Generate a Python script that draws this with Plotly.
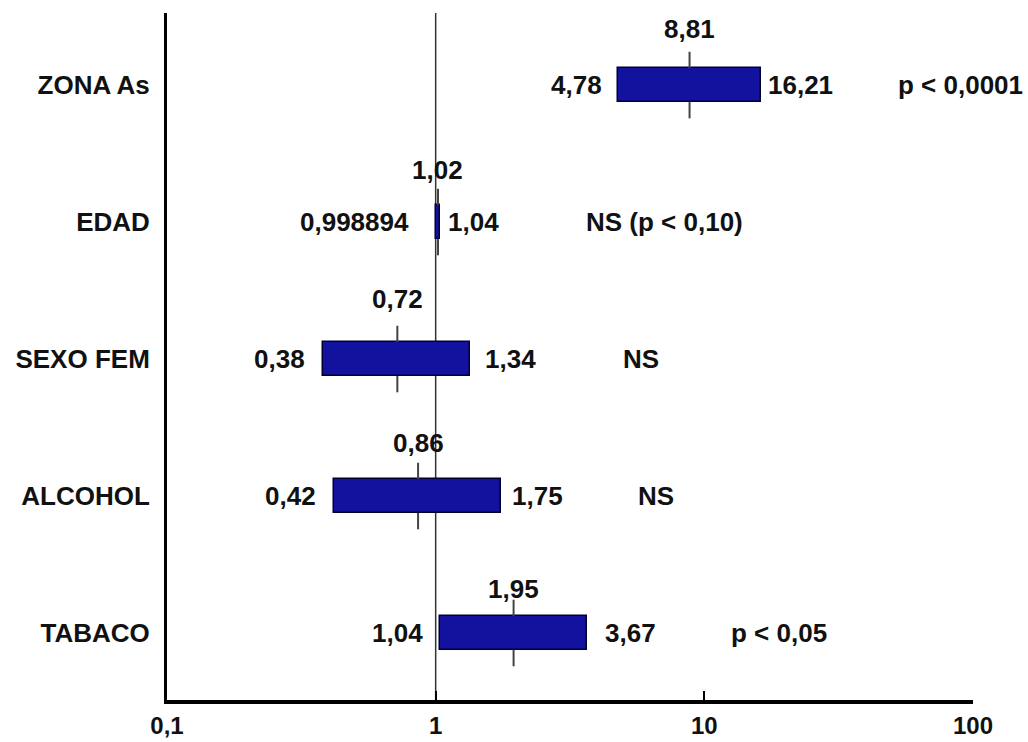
import math
import plotly.graph_objects as go

# ---- data (top to bottom) ----
categories = ["ZONA As", "EDAD", "SEXO FEM", "ALCOHOL", "TABACO"]
odds_ratio = [8.81, 1.02, 0.72, 0.86, 1.95]
ci_low = [4.78, 0.998894, 0.38, 0.42, 1.04]
ci_high = [16.21, 1.04, 1.34, 1.75, 3.67]
p_labels = ["p < 0,0001", "NS (p < 0,10)", "NS", "NS", "p < 0,05"]
x_tick_vals = [0.1, 1, 10, 100]
x_tick_text = ["0,1", "1", "10", "100"]

# ---- layout tweaks (label placement, px) ----
or_label_dy = [56, 52, 60, 53, 44]
lo_label_dx = [-14, -25, -16, -16, -15]
hi_label_dx = [5, 6, 13, 9, 16]
p_label_xpaper = [0.905, 0.517, 0.563, 0.582, 0.697]

BAR_COLOR = "#12129e"
FONT = dict(family="Liberation Sans, Arial, sans-serif", size=26, color="#111111", weight="bold")
TICK_FONT = dict(family="Liberation Sans, Arial, sans-serif", size=24, color="#111111", weight="bold")

def fmt(v):
    return str(v).replace(".", ",")

n = len(categories)
ypos = [n - 1 - i for i in range(n)]
half_bar = 0.124
half_line = 0.243

fig = go.Figure()

fig.add_trace(go.Bar(
    orientation="h",
    y=ypos,
    x=[h - l for h, l in zip(ci_high, ci_low)],
    base=ci_low,
    width=2 * half_bar,
    marker=dict(color=BAR_COLOR, line=dict(color="#000030", width=1.5)),
    hoverinfo="skip",
    showlegend=False,
))

# odds ratio whiskers (above and below each bar)
seg_x, seg_y = [], []
for o, y in zip(odds_ratio, ypos):
    seg_x += [o, o, None, o, o, None]
    seg_y += [y + half_bar, y + half_line, None, y - half_bar, y - half_line, None]
fig.add_trace(go.Scatter(
    x=seg_x, y=seg_y, mode="lines",
    line=dict(color="#444444", width=2),
    hoverinfo="skip", showlegend=False,
))

annotations = []
for i in range(n):
    y = ypos[i]
    annotations.append(dict(x=math.log10(odds_ratio[i]), y=y, xref="x", yref="y",
                            text=fmt(odds_ratio[i]), showarrow=False,
                            xanchor="center", yanchor="middle",
                            yshift=or_label_dy[i], font=FONT))
    annotations.append(dict(x=math.log10(ci_low[i]), y=y, xref="x", yref="y",
                            text=fmt(ci_low[i]), showarrow=False,
                            xanchor="right", yanchor="middle",
                            xshift=lo_label_dx[i], font=FONT))
    annotations.append(dict(x=math.log10(ci_high[i]), y=y, xref="x", yref="y",
                            text=fmt(ci_high[i]), showarrow=False,
                            xanchor="left", yanchor="middle",
                            xshift=hi_label_dx[i], font=FONT))
    annotations.append(dict(x=p_label_xpaper[i], y=y, xref="paper", yref="y",
                            text=p_labels[i], showarrow=False,
                            xanchor="left", yanchor="middle", font=FONT))

fig.add_shape(type="line", x0=1, x1=1, xref="x", y0=0, y1=1, yref="paper",
              line=dict(color="#333333", width=1.5), layer="below")

fig.update_layout(
    width=1028, height=742,
    margin=dict(l=167, r=55, t=13, b=42, autoexpand=False),
    paper_bgcolor="white", plot_bgcolor="white",
    annotations=annotations,
    showlegend=False,
    bargap=0,
)
fig.update_xaxes(
    type="log", range=[-1, 2],
    showline=True, linewidth=4, linecolor="black",
    ticks="inside", ticklen=9, tickwidth=1.5, tickcolor="black",
    tickvals=x_tick_vals, ticktext=x_tick_text,
    tickfont=TICK_FONT, ticklabelstandoff=1, automargin=False,
    showgrid=False, zeroline=False,
)
fig.update_yaxes(
    range=[-0.489, 4.526],
    showline=True, linewidth=3, linecolor="black",
    tickvals=ypos, ticktext=categories, ticks="",
    tickfont=FONT, ticklabelstandoff=9, automargin=False,
    showgrid=False, zeroline=False,
)

fig.write_html("out.html", config={"displayModeBar": False},
               post_script="document.body.style.margin='0';")
